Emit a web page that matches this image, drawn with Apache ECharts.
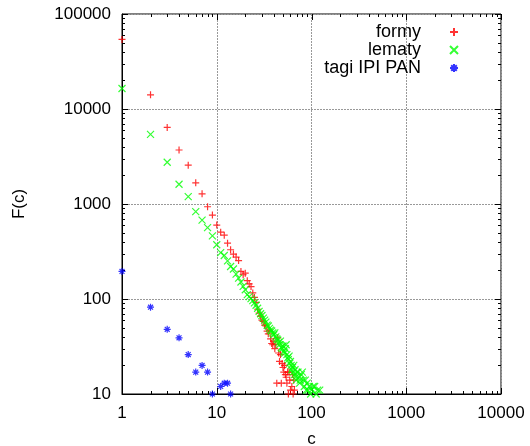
<!DOCTYPE html>
<html><head><meta charset="utf-8">
<script src="https://cdn.jsdelivr.net/npm/echarts@6/dist/echarts.min.js"></script>
<style>html,body{margin:0;padding:0;background:#fff}#c{width:530px;height:446px}</style>
</head><body><div id="c"></div>
<script>
// ---- data ----
const formyC = [1,2,3,4,5,6,7,8,9,10,11,12,13,14,15,16,17,18,19,20,21,22,23,24,25,26,27,28,29,30,31,32,33,34,35,36,37,38,39,40,41,42,43,44,45,46,47,48,49,50,51,52,53,54,55,56,57,58,59,60,62,63,64,65,66];
const formyF = [54000,14100,6400,3700,2560,1670,1280,935,765,600,505,470,387,330,297,276,254,195,180,187,156,144,135,116,104,92,78,71,66,60,58,53,52,46,43,47,38,34,33,36,30,33,13,39,27,22,26,13,21,19,17,20,16,15,13,17,10,17,14,11,12,16,10,14,11];

const lematyC = [1,2,3,4,5,6,7,8,9,10,11,12,13,14,15,16,17,18,19,20,21,22,23,24,25,26,27,28,29,30,31,32,33,34,35,36,37,38,39,40,41,42,43,44,45,46,47,48,49,50,51,52,53,54,55,56,57,58,59,60,61,62,63,64,65,66,67,68,69,70,72,74,75,76,78,80,82,84,86,88,90,92,95,98,100,104,108,112,116,122];
const lematyF = [16450,5410,2750,1615,1197,832,676,565,462,372,308,287,252,220,207,183,166,151,136,125,111,106,101,96,91,86,80,74,70,67,63,60,57,53,52,49,47,46,44,42,44,40,38,37,35,33,36,31,30,32,28,27,30,33,26,24,23,25,21,22,20,18,19,17,20,16,18,15,14,17,17,15,13,14,16,17,14,12,14,11,13,11,12,10,11,12,12,10,11,11];

const tagiC = [1,2,3,4,5,6,7,8,9,11,12,13,14];
const tagiF = [195,82,48,39,26,17,20,17,10,12,13,13,10];

const seriesNames = ['formy', 'lematy', 'tagi IPI PAN'];
const xTickLabels = [1, 10, 100, 1000, 10000];
const yTickLabels = [10, 100, 1000, 10000, 100000];

// ---- styling ----
const FONT = '"Liberation Sans", Arial, Helvetica, sans-serif';
const FS = 17;
const PLUS = 'path://M0,5L10,5M5,0L5,10';
const CROSS = 'path://M0,0L10,10M10,0L0,10';
const STAR = 'path://M0,5L10,5M5,0L5,10M1.5,1.5L8.5,8.5M8.5,1.5L1.5,8.5';

function minorValues(labels) {
  const out = [];
  for (let i = 0; i < labels.length - 1; i++) {
    for (let k = 2; k <= 9; k++) out.push(labels[i] * k);
  }
  return out;
}
const xMinor = minorValues(xTickLabels);
const yMinor = minorValues(yTickLabels);
const XMIN = xTickLabels[0], XMAX = xTickLabels[xTickLabels.length - 1];
const YMIN = yTickLabels[0], YMAX = yTickLabels[yTickLabels.length - 1];

function renderTicks(params, api) {
  const p0 = api.coord([XMIN, YMIN]);
  const p1 = api.coord([XMAX, YMAX]);
  const left = p0[0], bottom = p0[1], right = p1[0], top = p1[1];
  const ch = [];
  const seg = (x1, y1, x2, y2) => ch.push({type: 'line', shape: {x1, y1, x2, y2}, style: {stroke: '#000', lineWidth: 1}});
  const xt = (v, L) => { const x = Math.round(api.coord([v, YMIN])[0]) + 0.5; seg(x, bottom, x, bottom - L); seg(x, top, x, top + L); };
  const yt = (v, L) => { const y = Math.round(api.coord([XMIN, v])[1]) + 0.5; seg(left, y, left + L, y); seg(right, y, right - L, y); };
  xTickLabels.forEach(v => xt(v, 6));
  xMinor.forEach(v => xt(v, 3));
  yTickLabels.forEach(v => yt(v, 6));
  yMinor.forEach(v => yt(v, 3));
  return {type: 'group', children: ch};
}

const labelFmt = v => String(Math.round(v));
const chart = echarts.init(document.getElementById('c'), null, {renderer: 'canvas'});
chart.setOption({
  animation: false,
  backgroundColor: '#fff',
  grid: {left: 122, right: 29, top: 14, bottom: 52, show: true, borderColor: '#000', borderWidth: 1,
         outerBoundsMode: 'none', containLabel: false},
  legend: {
    orient: 'vertical', right: 71, top: 23, align: 'right', padding: 0,
    itemWidth: 8, itemHeight: 8, itemGap: 0, selectedMode: false,
    data: seriesNames,
    textStyle: {fontSize: 18, fontFamily: FONT, color: '#000', padding: [0, 24, 0, 0]}
  },
  xAxis: {
    type: 'log', logBase: 10, min: XMIN, max: XMAX,
    axisLine: {show: true, onZero: false, lineStyle: {color: '#000', width: 1}},
    axisTick: {show: false}, minorTick: {show: false},
    axisLabel: {color: '#000', fontSize: FS, fontFamily: FONT, margin: 11, formatter: labelFmt},
    splitLine: {show: true, lineStyle: {color: '#999', type: [2, 1], width: 1}},
    name: 'c', nameLocation: 'middle', nameGap: 37,
    nameTextStyle: {color: '#000', fontSize: FS, fontFamily: FONT}
  },
  yAxis: {
    type: 'log', logBase: 10, min: YMIN, max: YMAX,
    axisLine: {show: true, onZero: false, lineStyle: {color: '#000', width: 1}},
    axisTick: {show: false}, minorTick: {show: false},
    axisLabel: {color: '#000', fontSize: FS, fontFamily: FONT, margin: 11, formatter: labelFmt},
    splitLine: {show: true, lineStyle: {color: '#999', type: [2, 1], width: 1}},
    name: 'F(c)', nameLocation: 'middle', nameGap: 94, nameRotate: 90,
    nameTextStyle: {color: '#000', fontSize: FS, fontFamily: FONT}
  },
  series: [
    {type: 'custom', coordinateSystem: 'cartesian2d', data: [[XMIN, YMIN]], silent: true, clip: false, z: 1, renderItem: renderTicks},
    {name: seriesNames[0], type: 'scatter', clip: false, z: 3, symbol: PLUS, symbolSize: 7,
     itemStyle: {color: '#ff0000', borderColor: '#ff0000', borderWidth: 1.2},
     data: formyC.map((c, i) => [c, formyF[i]])},
    {name: seriesNames[1], type: 'scatter', clip: false, z: 3, symbol: CROSS, symbolSize: 7,
     itemStyle: {color: '#00ff00', borderColor: '#00ff00', borderWidth: 1.2},
     data: lematyC.map((c, i) => [c, lematyF[i]])},
    {name: seriesNames[2], type: 'scatter', clip: false, z: 3, symbol: STAR, symbolSize: 7,
     itemStyle: {color: '#0000ff', borderColor: '#0000ff', borderWidth: 1.2},
     data: tagiC.map((c, i) => [c, tagiF[i]])}
  ]
});
</script>
</body></html>
